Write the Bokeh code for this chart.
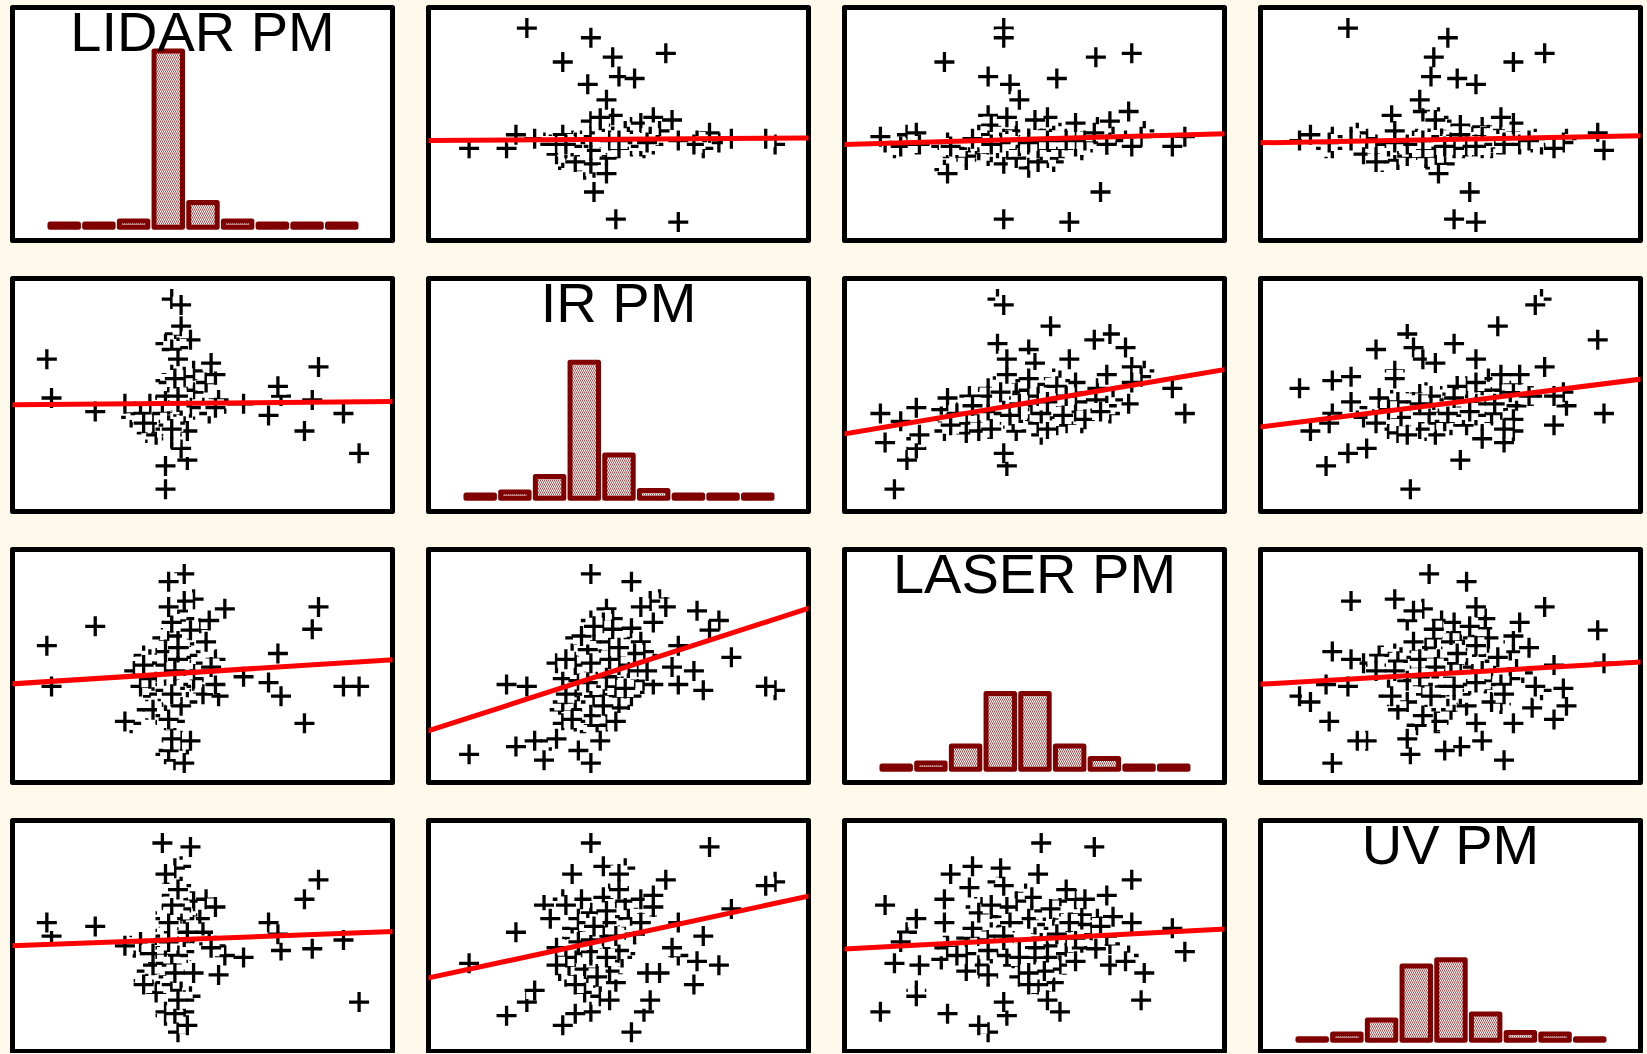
import numpy as np
from bokeh.plotting import figure
from bokeh.layouts import column, row
from bokeh.models import Slope, Label, ColumnDataSource, Range1d, GlobalInlineStyleSheet
from bokeh.embed import file_html
from bokeh.resources import INLINE

# ---------------- data (% of each variable's range) -------------
NAMES = ["LIDAR PM", "IR PM", "LASER PM", "UV PM"]

LIDAR_PM = [
    47, 36, 43, 38, 44, 34, 44, 41, 37, 41,
    44, 31, 27, 40, 40, 57, 39, 40, 32, 46,
    37, 44, 41, 41, 36, 43, 28, 41, 40, 47,
    37, 40, 42, 34, 43, 40, 49, 35, 33, 40,
    37, 55, 45, 43, 30, 33, 40, 41, 38, 41,
    41, 45, 39, 25, 42, 38, 50, 41, 38, 41,
    52, 35, 47, 39, 44, 41, 39, 42, 34, 41,
    41, 39, 41, 54, 31, 44, 40, 38, 40, 40,
    51, 38, 38, 42, 40, 54, 38, 40, 39, 43,
    40, 43, 38, 38, 45, 100, 44, 39, 47, 41, 43, 38, 46, 42, 40, 42, 37, 41, 44, 39,
    43, 40, 46, 42, 45, 38, 41,
    95, 82.5, 85, 87, 75, 71, 74, 52.6, 15.5, 1.5, 0, 63,
    40, 39, 43, 41, 38, 40, 44, 39, 42, 40, 42, 41,
]
IR_PM = [
    43, 37, 47, 40, 45, 33, 51, 41, 47, 36,
    53, 42, 39, 49, 35, 46, 41, 55, 31, 44,
    38, 48, 41, 45, 36, 52, 42, 47, 37, 58,
    40, 44, 47, 34, 50, 41, 54, 39, 46, 43,
    36, 48, 59, 44, 41, 32, 51, 45, 38, 47,
    42, 53, 40, 46, 35, 49, 44, 56, 37, 47,
    41, 30, 52, 43, 48, 39, 45, 55, 36, 42,
    50, 47, 41, 44, 36, 53, 46, 33, 47, 42,
    57, 40, 49, 38, 45, 61, 41, 51, 43, 46,
    100, 97, 2, 14, 17, 20.5, 41, 54, 63, 82, 86, 77, 79, 75, 74, 69, 41, 26, 41, 37,
    23, 28, 44, 54, 32, 58, 36,
    41, 32, 48, 65, 50, 40, 55, 67, 42, 49, 69, 46,
    30, 35, 45, 52, 50, 61, 60, 57, 47, 33, 50, 59,
]
LASER_PM = [
    52, 42, 58, 49, 68, 35, 48, 28, 32, 60,
    62, 56, 21, 36, 52, 80, 32, 37, 28, 58,
    50, 62, 67, 32, 36, 60, 48, 47, 30, 43,
    57, 39, 72, 43, 38, 21, 70, 52, 54, 31,
    65, 35, 56, 65, 40, 44, 50, 49, 21, 68,
    58, 33, 65, 22, 57, 56, 36, 50, 43, 45,
    74, 52, 44, 20, 75, 55, 41, 56, 28, 63,
    29, 63, 32, 54, 51, 48, 43, 54, 53, 35,
    63, 59, 22, 66, 73, 41, 25, 40, 45, 53,
    38, 40, 5, 41, 9, 40, 98, 94, 85, 74, 55, 38, 69, 79, 48, 41, 52, 2, 0.5, 7,
    12, 12, 12, 35, 32, 58, 22,
    40, 21, 69.5, 81, 35, 42, 57, 50, 71, 40, 61, 45,
    13, 23, 30, 39, 51, 73, 84, 81, 54, 36, 60, 48,
]
UV_PM = [
    53, 43, 39, 63, 48, 30, 58, 50, 36, 50,
    58, 28, 46, 65, 50, 41, 54, 52, 33, 69,
    25, 57, 47, 51, 42, 42, 45, 73, 55, 68,
    32, 61, 49, 36, 47, 58, 60, 22, 42, 66,
    45, 31, 62, 62, 48, 42, 40, 71, 45, 53,
    36, 66, 57, 46, 55, 27, 53, 57, 60, 43,
    47, 45, 69, 39, 61, 34, 56, 55, 42, 50,
    76, 38, 63, 46, 26, 60, 58, 40, 33, 49,
    70, 54, 45, 70, 51, 66, 41, 50, 30, 64,
    79, 77, 37, 10, 53, 17, 43, 55, 32, 36, 65, 51, 97, 38, 26, 41, 99, 67, 12, 48,
    23, 60, 20, 1.5, 5, 12, 11,
    49, 70, 44.5, 80, 43.6, 58, 52, 45, 56, 51, 58, 40,
    36, 83, 87, 86, 83, 72, 18, 58, 18, 67, 75, 32,
]

# histogram counts (9 equal bins over each variable's range)
LIDAR_HIST = [2, 2, 4, 114, 16, 4, 2, 2, 2]
IR_HIST = [2, 4, 14, 88, 28, 5, 2, 2, 2]
LASER_HIST = [2, 4, 15, 49, 49, 15, 7, 2, 2]
UV_HIST = [1, 4, 13, 48, 52, 17, 5, 4, 1]

VARS = [LIDAR_PM, IR_PM, LASER_PM, UV_PM]
HISTS = [LIDAR_HIST, IR_HIST, LASER_HIST, UV_HIST]

# ---------------- styling ----------------
BG = "#FFF9EC"
X_RANGE = (-11.0, 110.7)
Y_TOP = 110.6
PX_PER_Y = 1.94
PX_PER_COUNT = 1.545
BASE_FROM_TOP = 219.7

grid = []
for r in range(4):
    rowfigs = []
    for c in range(4):
        w = 416 if c < 3 else 395
        h = 271 if r < 3 else 240
        fw = 380
        fh = 233 if r < 3 else 231
        if r == c:
            yr = Range1d(-(fh - BASE_FROM_TOP) / PX_PER_COUNT, BASE_FROM_TOP / PX_PER_COUNT)
        else:
            yr = Range1d(Y_TOP - fh / PX_PER_Y, Y_TOP)
        p = figure(width=w, height=h, output_backend="svg", toolbar_location=None,
                   x_range=Range1d(*X_RANGE), y_range=yr,
                   x_axis_location=None, y_axis_location=None,
                   min_border_left=12, min_border_right=w - 12 - fw,
                   min_border_top=7, min_border_bottom=h - 7 - fh)
        p.grid.visible = False
        p.background_fill_color = "white"
        p.border_fill_color = BG
        p.outline_line_color = "black"
        p.outline_line_width = 5
        p.outline_line_join = "round"

        if r == c:
            edges = np.linspace(0, 100, len(HISTS[r]) + 1)
            centers = (edges[:-1] + edges[1:]) / 2
            bw = edges[1] - edges[0]
            p.vbar(x=centers, top=HISTS[r], bottom=0, width=bw * 0.82,
                   fill_color="white", line_color="#800000", line_width=5,
                   line_join="round", hatch_pattern="\\", hatch_color="#800000",
                   hatch_scale=4, hatch_weight=1, hatch_alpha=0.7)
            p.add_layout(Label(x=(X_RANGE[0] + X_RANGE[1]) / 2, y=yr.end,
                               text=NAMES[r], text_align="center", text_baseline="top",
                               text_font="Liberation Sans", text_font_size="56px",
                               text_color="black", y_offset=8))
        else:
            xv = np.asarray(VARS[c], dtype=float)
            yv = np.asarray(VARS[r], dtype=float)
            n = len(xv)
            src = ColumnDataSource(dict(
                x=np.repeat(xv, 2), y=np.repeat(yv, 2),
                marker=["square", "cross"] * n,
                size=[17, 20] * n,
                line=["white", "black"] * n,
                la=[0.0, 1.0] * n,
            ))
            p.scatter("x", "y", source=src, marker="marker", size="size",
                      fill_color="white", line_color="line", line_alpha="la",
                      line_width=3.3)
            m, b = np.polyfit(xv, yv, 1)
            p.add_layout(Slope(gradient=m, y_intercept=b, line_color="#FF0000", line_width=5))
        rowfigs.append(p)
    grid.append(row(*rowfigs, spacing=0))

sheet = GlobalInlineStyleSheet(css="html, body { background-color: %s; }" % BG)
layout = column(*grid, spacing=0, stylesheets=[sheet])
open("out.html", "w").write(file_html(layout, INLINE))
